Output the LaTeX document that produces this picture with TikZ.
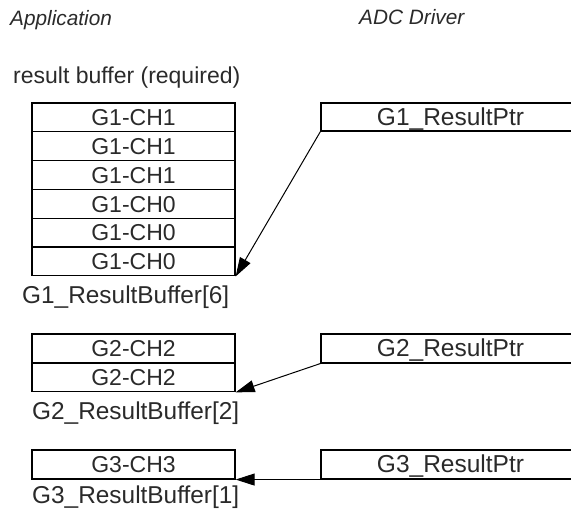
\documentclass[tikz,border=0pt]{standalone}
\usepackage{fontspec}
\setmainfont{Liberation Sans}
\usetikzlibrary{arrows.meta}
\definecolor{ink}{HTML}{2A2A2A}
\tikzset{
  cell/.style={draw=black, line width=1.3pt, minimum width=203pt, minimum height=28.8pt,
    inner sep=0pt, text height=16.5pt, text depth=0pt, text=ink,
    font=\fontsize{23}{23}\selectfont},
  ptr/.style={cell, minimum width=259pt, font=\fontsize{24.5}{24.5}\selectfont},
  lbl/.style={inner sep=0pt, anchor=base west, text=ink, font=\fontsize{24.4}{24.4}\selectfont},
  hdr/.style={inner sep=0pt, anchor=base west, text=ink, font=\fontsize{20.8}{20.8}\selectfont\itshape},
  conn/.style={draw=black, line width=1pt, -{Triangle[length=19pt,width=12pt]}}
}
\begin{document}
\begin{tikzpicture}[x=1pt,y=-1pt]
\useasboundingbox (0,0) rectangle (571,512);
\clip (0,0) rectangle (571,512);
% headers
\node[hdr] (happ) at (10,25) {Application};
\node[hdr] (hadc) at (359,24) {ADC Driver};
\node[lbl, font=\fontsize{23}{23}\selectfont] (rb) at (13,83) {result buffer (required)};
% group 1 buffer
\node[cell] (a1) at (133.5,117.4) {G1-CH1};
\node[cell] (a2) at (133.5,146.2) {G1-CH1};
\node[cell] (a3) at (133.5,175.0) {G1-CH1};
\node[cell] (a4) at (133.5,203.8) {G1-CH0};
\node[cell] (a5) at (133.5,232.6) {G1-CH0};
\node[cell] (a6) at (133.5,261.4) {G1-CH0};
\node[lbl] (la) at (22,303) {G1\_ResultBuffer[6]};
\node[ptr, minimum height=28pt] (p1) at (450.5,117) {G1\_ResultPtr};
% group 2
\node[cell] (b1) at (133.5,348.5) {G2-CH2};
\node[cell] (b2) at (133.5,377.3) {G2-CH2};
\node[lbl] (lb) at (32,419) {G2\_ResultBuffer[2]};
\node[ptr] (p2) at (450.5,348.5) {G2\_ResultPtr};
% group 3
\node[cell] (c1) at (133.5,464.5) {G3-CH3};
\node[lbl] (lc) at (32,503) {G3\_ResultBuffer[1]};
\node[ptr] (p3) at (450.5,464.5) {G3\_ResultPtr};
% connectors
\draw[conn] (p1.south west) -- (a6.south east);
\draw[conn] (p2.south west) -- (b2.south east);
\draw[conn] (p3.south west) -- (c1.south east);
\end{tikzpicture}
\end{document}
